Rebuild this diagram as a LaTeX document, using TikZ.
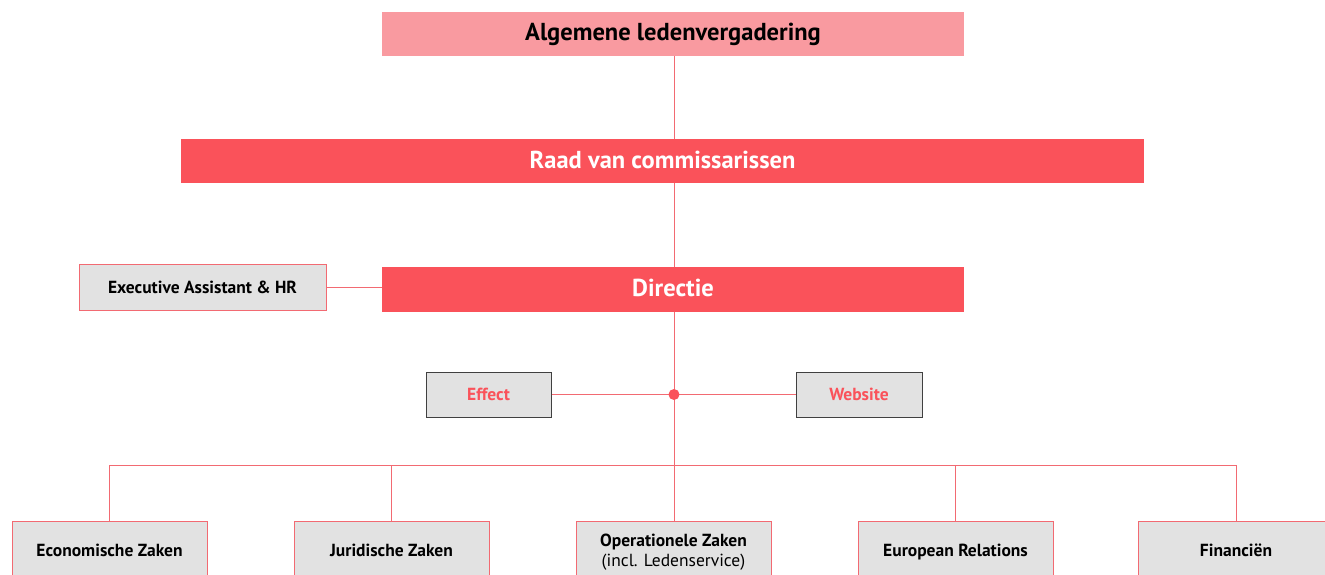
\documentclass[tikz,border=0pt]{standalone}
\usepackage{fontspec}
\setmainfont{PT Sans}
\definecolor{lightred}{HTML}{F99AA0}
\definecolor{mainred}{HTML}{FA525A}
\definecolor{linered}{HTML}{F26A72}
\definecolor{boxgray}{HTML}{E2E2E2}
\begin{document}
\begin{tikzpicture}[x=1pt,y=-1pt,
  bigbox/.style={minimum height=44pt, inner sep=0pt, text height=17pt, text depth=3pt, font=\fontsize{24.5}{27}\selectfont\bfseries},
  sidebox/.style={draw=linered, line width=1pt, fill=boxgray, inner sep=0pt, font=\fontsize{17.5}{19}\selectfont\bfseries, align=center},
  unitbox/.style={sidebox, minimum width=195pt, minimum height=58pt, text height=12.5pt, text depth=0.5pt},
  darkbox/.style={draw=black!75, line width=1pt, fill=boxgray, inner sep=0pt, text=mainred, font=\fontsize{17.5}{19}\selectfont\bfseries},
  conn/.style={draw=linered, line width=1pt}]
\clip (0,0) rectangle (1325,575);
\fill[white] (0,0) rectangle (1325,575);
% top boxes
\node[bigbox, fill=lightred, minimum width=582pt, text=black] (alg) at (673,34) {Algemene ledenvergadering};
\node[bigbox, fill=mainred, minimum width=963pt, text=white] (raad) at (662.5,161) {Raad van commissarissen};
\node[bigbox, fill=mainred, minimum width=582pt, minimum height=45pt, text=white] (dir) at (673,289.5) {Directie};
\node[sidebox, minimum width=247pt, minimum height=46pt] (exec) at (202.5,287) {Executive Assistant \& HR};
\node[darkbox, minimum width=125pt, minimum height=45pt] (eff) at (488.5,394.5) {Effect};
\node[darkbox, minimum width=126pt, minimum height=45pt] (web) at (859,394.5) {Website};
\coordinate (hub) at (674,394.5);
% bottom boxes
\node[unitbox] (eco) at (109.5,550) {Economische Zaken};
\node[unitbox] (jur) at (391.5,550) {Juridische Zaken};
\node[sidebox, minimum width=195pt, minimum height=62pt] (ops) at (673.5,552) {Operationele Zaken\\[1pt]{\mdseries (incl. Ledenservice)}};
\node[unitbox] (eur) at (955.5,550) {European Relations};
\node[unitbox] (fin) at (1236,550) {Financiën};
% connectors
\draw[conn] (alg.south -| 674,0) -- (raad.north -| 674,0);
\draw[conn] (raad.south -| 674,0) -- (dir.north -| 674,0);
\draw[conn] (exec.east) -- (exec.east -| dir.west);
\draw[conn] (dir.south -| 674,0) -- (hub);
\draw[conn] (eff.east) -- (hub) -- (web.west);
\draw[conn] (hub) -- (ops.north -| 674,0);
\draw[conn] (eco.north) -- ++(0,-55) -| (fin.north);
\draw[conn] (jur.north) -- ++(0,-55);
\draw[conn] (eur.north) -- ++(0,-55);
\fill[mainred] (hub) circle (5.5pt);
\end{tikzpicture}
\end{document}
